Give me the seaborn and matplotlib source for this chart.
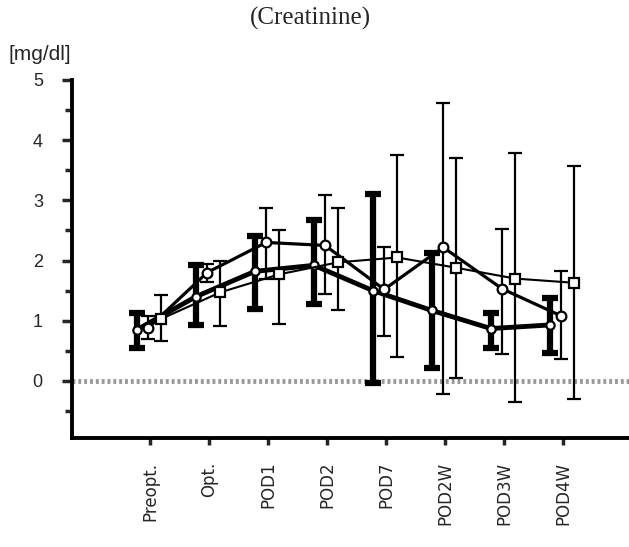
import numpy as np
import pandas as pd
import seaborn as sns
from matplotlib import pyplot as plt

# time points
categories = ['Preopt.', 'Opt.', 'POD1', 'POD2', 'POD7', 'POD2W', 'POD3W', 'POD4W']

# thick line, small circles
thick_mean = [0.85, 1.40, 1.82, 1.92, 1.50, 1.17, 0.87, 0.93]
thick_low = [0.55, 0.93, 1.20, 1.27, -0.03, 0.22, 0.55, 0.47]
thick_high = [1.12, 1.92, 2.40, 2.67, 3.10, 2.13, 1.13, 1.37]

# medium line, open circles
circ_mean = [0.88, 1.80, 2.30, 2.25, 1.52, 2.22, 1.53, 1.08]
circ_low = [0.70, 1.65, 1.70, 1.45, 0.75, -0.22, 0.45, 0.37]
circ_high = [1.08, 1.95, 2.87, 3.08, 2.23, 4.62, 2.53, 1.83]

# thin line, open squares
sq_mean = [1.03, 1.47, 1.77, 1.97, 2.05, 1.88, 1.70, 1.63]
sq_low = [0.67, 0.92, 0.95, 1.17, 0.40, 0.05, -0.35, -0.30]
sq_high = [1.42, 2.00, 2.50, 2.88, 3.75, 3.70, 3.78, 3.57]

sns.set_style('white')
plt.rcParams['font.family'] = ['Liberation Sans', 'DejaVu Sans']

fig = plt.figure(figsize=(6.29, 5.47), dpi=100)
ax = fig.add_axes([0.1145, 0.199, 0.8855, 0.655])

pos = np.arange(len(categories))

series = [
    (thick_mean, thick_low, thick_high, -0.22, 'o', 3.5, 4.5, 6, 6),
    (circ_mean, circ_low, circ_high, -0.03, 'o', 2.3, 1.6, 7, 5),
    (sq_mean, sq_low, sq_high, 0.19, 's', 1.5, 1.6, 7, 5),
]

# zero reference line
ax.axhline(0, color='#999999', lw=3.5, ls=(0, (0.6, 0.6)), zorder=1)

for mean, low, high, off, mk, lw, elw, ms, cap in series:
    df = pd.DataFrame({'x': pos + off, 'y': mean})
    mean = np.array(mean)
    yerr = [mean - np.array(low), np.array(high) - mean]
    ax.errorbar(df['x'], df['y'], yerr=yerr, fmt='none', ecolor='black',
                elinewidth=elw, capsize=cap, capthick=elw, zorder=2)
    sns.lineplot(data=df, x='x', y='y', color='black', lw=lw, marker=mk,
                 markersize=ms, markerfacecolor='white', markeredgecolor='black',
                 markeredgewidth=1.6, ax=ax, zorder=3)

ax.set_xlim(-1.32, 8.12)
ax.set_ylim(-0.95, 5)
ax.set_xticks(pos)
ax.set_xticklabels(categories, rotation=90, fontsize=12, va='top',
                   family=['DejaVu Sans'])
ax.set_yticks([0, 1, 2, 3, 4, 5])
ax.set_yticks(np.arange(-0.5, 5, 1.0), minor=True)
ax.tick_params(axis='y', which='major', direction='out', length=7, width=2.5,
               labelsize=13, pad=14, left=True)
ax.tick_params(axis='y', which='minor', direction='out', length=5, width=2.5, left=True)
ax.tick_params(axis='x', direction='out', length=5, width=2.5, pad=12, bottom=True)
ax.set_xlabel('')
ax.set_ylabel('')

sns.despine(ax=ax)
for side in ['left', 'bottom']:
    ax.spines[side].set_linewidth(2.8)
    ax.spines[side].set_color('black')

fig.text(0.493, 0.966, '(Creatinine)', ha='center', va='center', fontsize=18,
         family=['Liberation Serif', 'DejaVu Serif'])
fig.text(0.014, 0.900, '[mg/dl]', ha='left', va='center', fontsize=15)

fig.savefig('out.png', dpi=100, facecolor='white')
